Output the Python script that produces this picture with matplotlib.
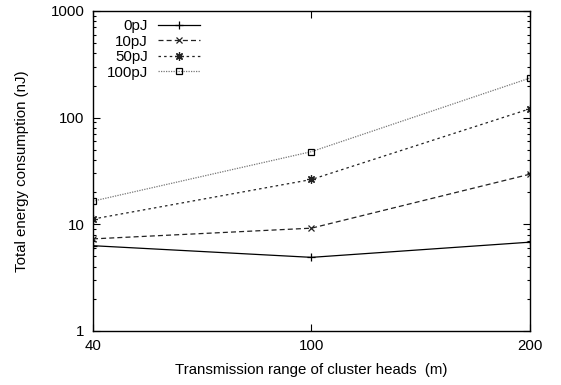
import matplotlib
matplotlib.use("Agg")
import matplotlib.pyplot as plt
import numpy as np

plt.rcParams["font.family"] = ["Liberation Sans", "DejaVu Sans"]
plt.rcParams["font.size"] = 10.8

# 伝送範囲 (m)
ranges = [40, 100, 200]

# 消費エネルギー (nJ)
e_0pj = [6.3, 4.9, 6.8]
e_10pj = [7.3, 9.2, 29.5]
e_50pj = [11.2, 26.3, 121]
e_100pj = [16.5, 48, 235]

labels = ["0pJ", "10pJ", "50pJ", "100pJ"]


def main() -> None:
    fig = plt.figure(figsize=(5.61, 3.85), dpi=100)
    ax = fig.add_axes([0.1658, 0.1403, 0.7789, 0.8313])

    xs = np.arange(len(ranges))
    series = [e_0pj, e_10pj, e_50pj, e_100pj]
    styles = [
        dict(color="black", ls="-", marker="+", ms=6, mew=0.9),
        dict(color="#222222", ls=(0, (4, 2.5)), marker="x", ms=5, mew=0.9),
        dict(color="#222222", ls=(0, (2, 2.5)), marker=(8, 2, 0), ms=6, mew=0.9),
        dict(color="#777777", ls=(0, (1, 1)), marker="s", ms=5, mew=0.9,
             mfc="none", mec="black"),
    ]
    for ys, lbl, st in zip(series, labels, styles):
        ax.plot(xs, ys, lw=0.9, label=lbl, **st)

    ax.set_yscale("log")
    ax.set_ylim(1, 1000)
    ax.set_xlim(xs[0], xs[-1])
    ax.set_xticks(xs)
    ax.set_xticklabels([str(r) for r in ranges])
    ax.set_yticks([1, 10, 100, 1000])
    ax.set_yticklabels(["1", "10", "100", "1000"])

    ax.tick_params(which="both", direction="in", top=True, right=True)
    ax.tick_params(which="major", length=5, width=0.8, pad=6)
    ax.tick_params(which="minor", length=2.5, width=0.8)
    ax.tick_params(axis="x", which="minor", top=False, bottom=False)
    for sp in ax.spines.values():
        sp.set_linewidth(1.0)

    ax.set_xlabel("Transmission range of cluster heads  (m)")
    ax.set_ylabel("Total energy consumption (nJ)")
    ax.xaxis.set_label_coords(0.5, -0.1)
    ax.yaxis.set_label_coords(-0.147, 0.5)

    ax.legend(loc="upper right", bbox_to_anchor=(0.263, 1.0), frameon=False,
              markerfirst=False, handlelength=2.8, handletextpad=0.65,
              labelspacing=0.1, borderaxespad=0.25, borderpad=0.3)

    fig.savefig("out.png", dpi=100, facecolor="white")
    plt.close(fig)


if __name__ == "__main__":
    main()
